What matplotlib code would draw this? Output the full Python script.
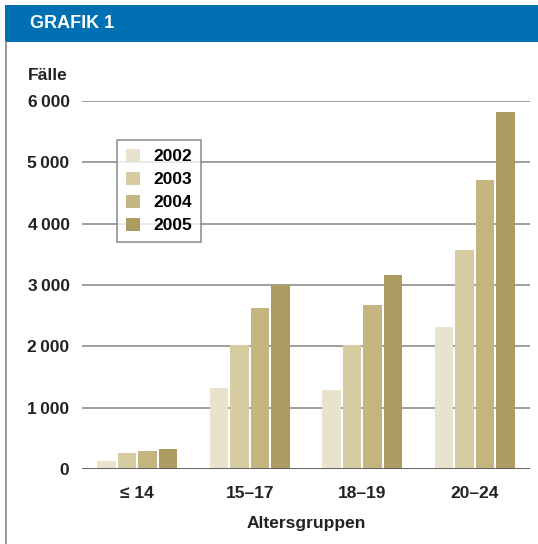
import numpy as np
import matplotlib.pyplot as plt
from matplotlib.patches import Rectangle
from matplotlib.lines import Line2D

plt.rcParams['font.family'] = ['Liberation Sans', 'DejaVu Sans']

groups = ['≤ 14', '15–17', '18–19', '20–24']
years = ['2002', '2003', '2004', '2005']
v2002 = [130, 1320, 1290, 2320]
v2003 = [260, 2020, 2020, 3570]
v2004 = [290, 2630, 2670, 4710]
v2005 = [330, 3000, 3160, 5820]
yticks = [0, 1000, 2000, 3000, 4000, 5000, 6000]
ytick_labels = ['0', '1\u2009000', '2\u2009000', '3\u2009000', '4\u2009000', '5\u2009000', '6\u2009000']

colors = ['#e9e3cd', '#d7cba1', '#c4b47f', '#ad9c62']
series = [v2002, v2003, v2004, v2005]

fig = plt.figure(figsize=(5.38, 5.44), dpi=100)

# header bar
fig.patches.append(Rectangle((5 / 538, 1 - 42 / 544), 1, 37 / 544, transform=fig.transFigure,
                             facecolor='#0070b2', edgecolor='none'))
fig.text(30 / 538, 1 - 24 / 544, 'GRAFIK 1', color='white', fontsize=13, fontweight='bold',
         va='center', ha='left')
fig.lines.append(Line2D([6 / 538, 6 / 538], [0, 1 - 42 / 544], transform=fig.transFigure,
                        color='#888888', lw=1.2))

ax = fig.add_axes([82 / 538, 75 / 544, 448 / 538, 368 / 544])
x = np.arange(len(groups))
w = 0.165
gap = 0.017
for i, (vals, c) in enumerate(zip(series, colors)):
    ax.bar(x + (i - 1.5) * (w + gap), vals, w, color=c, label=years[i], zorder=3)

ax.set_xlim(-0.49, 3.49)
ax.set_ylim(0, 6000)
ax.set_yticks(yticks)
ax.set_yticklabels(ytick_labels)
for yv in yticks[1:]:
    ax.axhline(yv, color='#8f8f8f', lw=1.2, zorder=1)
ax.axhline(0, color='#555555', lw=2, zorder=4)
for s in ax.spines.values():
    s.set_visible(False)
ax.tick_params(axis='y', length=0, pad=9, labelsize=12.5)
ax.tick_params(axis='x', length=0, pad=12, labelsize=12.5)
for lab in ax.get_yticklabels() + ax.get_xticklabels():
    lab.set_fontweight('bold')
    lab.set_color('#222222')
ax.set_xticks(x)
ax.set_xticklabels(groups)

ax.set_xlabel('Altersgruppen', fontsize=12.5, fontweight='bold', color='#222222', labelpad=11)
fig.text(28 / 538, 1 - 75 / 544, 'Fälle', fontsize=12.5, fontweight='bold', color='#222222',
         va='center', ha='left')

leg = ax.legend(loc='upper left', bbox_to_anchor=(35 / 448, 1 - 39 / 368), frameon=True,
                fancybox=False, fontsize=12.5, handlelength=0.8, handleheight=0.8,
                handletextpad=0.8, labelspacing=0.42, borderpad=0.5, borderaxespad=0)
leg.get_frame().set_edgecolor('#777777')
leg.get_frame().set_linewidth(1.2)
for t in leg.get_texts():
    t.set_fontweight('bold')
leg.set_zorder(5)

fig.savefig('out.png', dpi=100)
